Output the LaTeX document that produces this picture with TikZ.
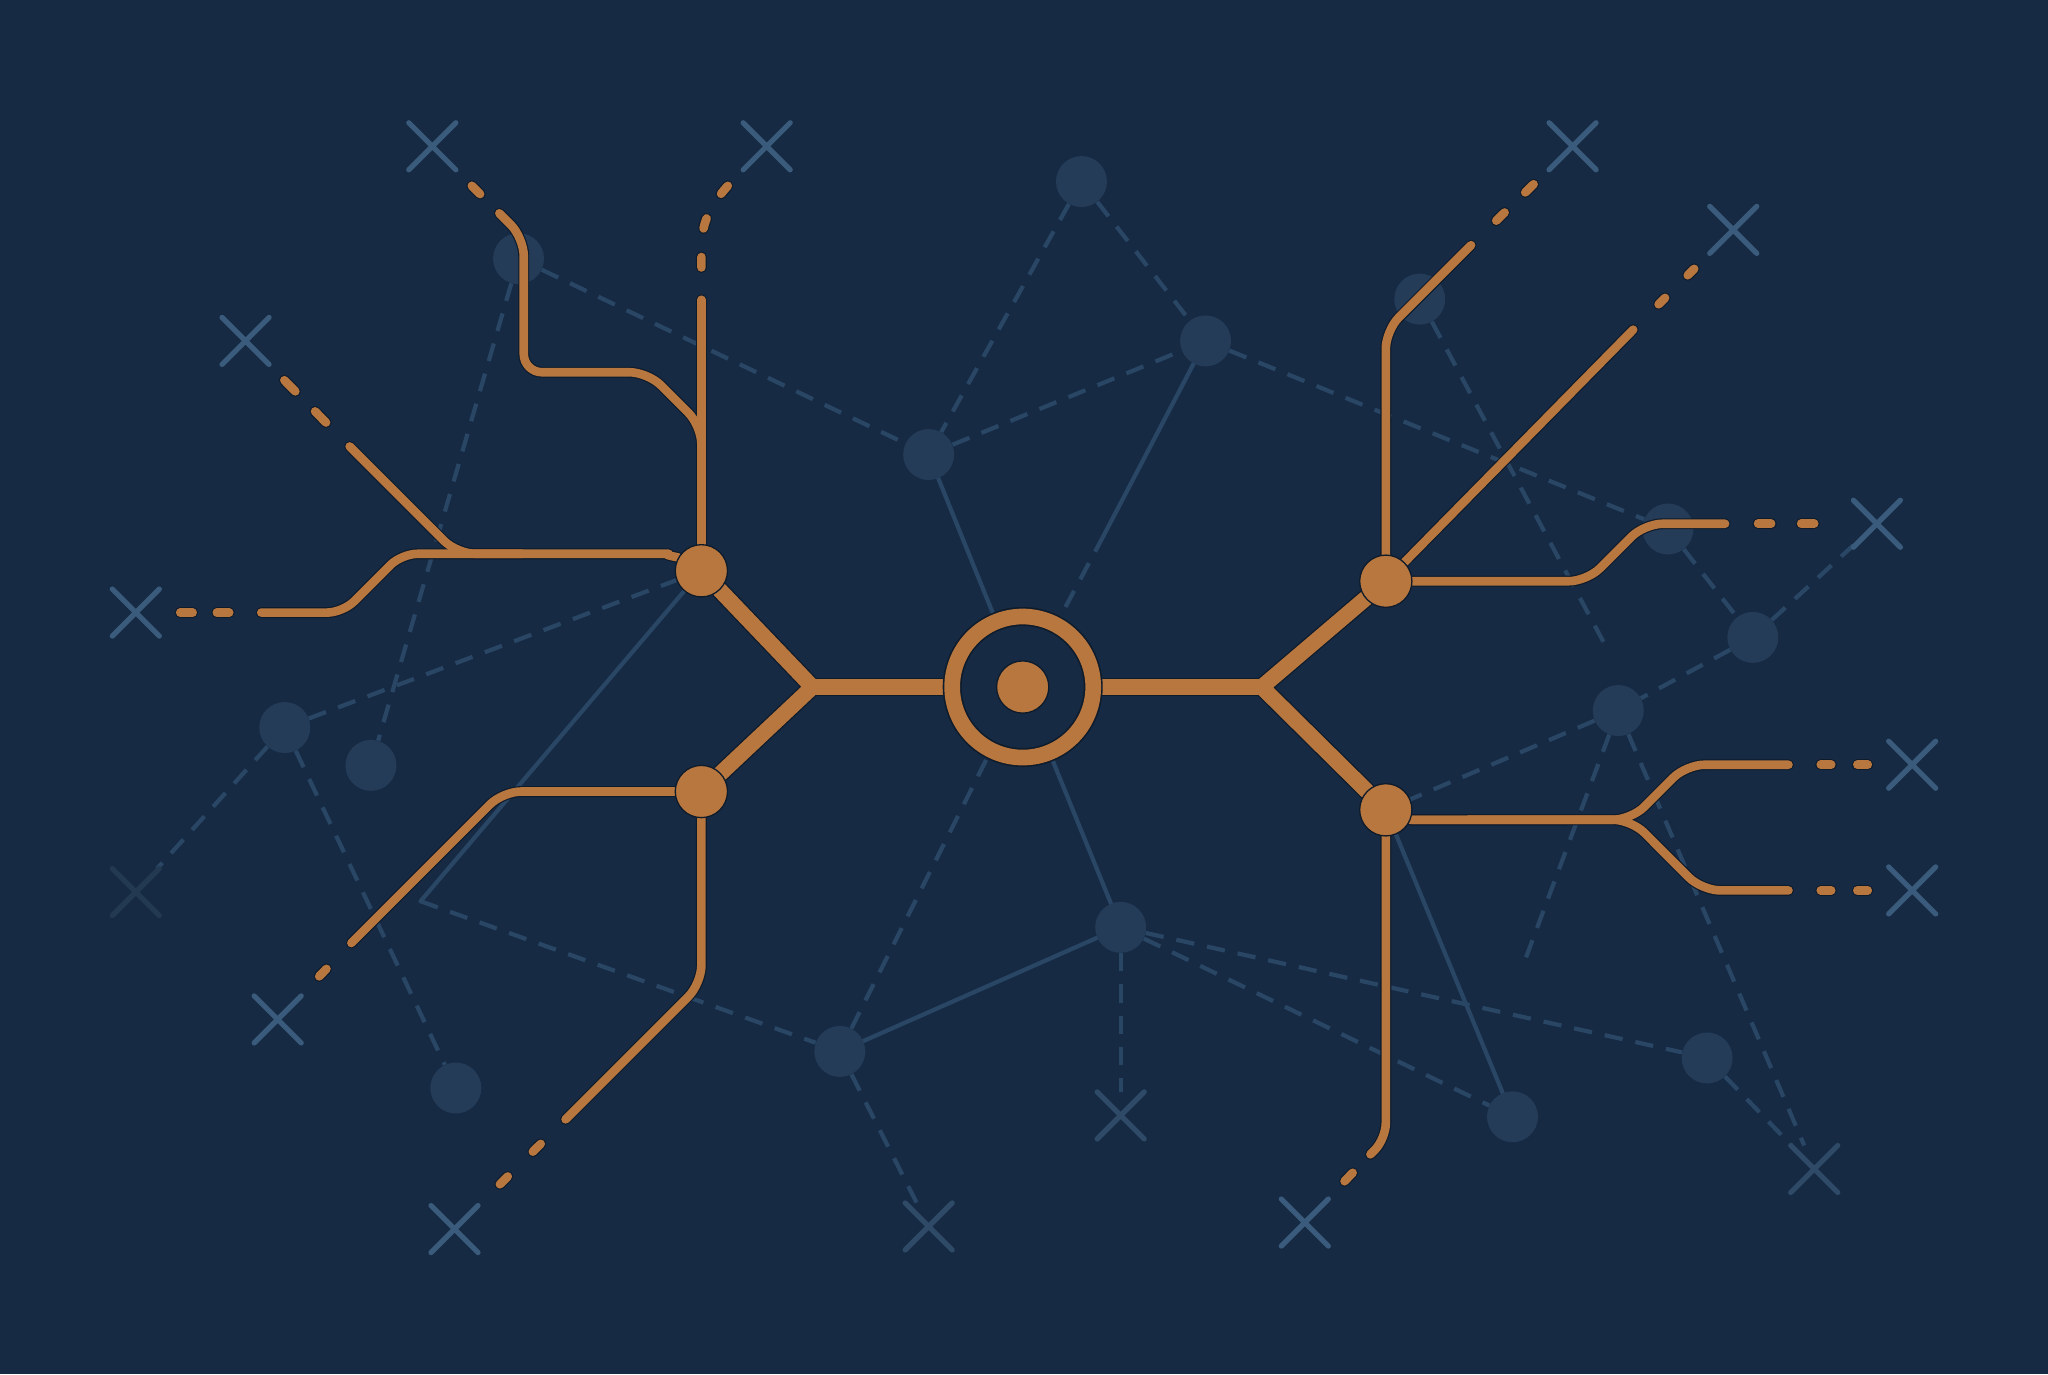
\documentclass[tikz,border=0pt]{standalone}
\usetikzlibrary{shapes.misc}
\definecolor{bgc}{HTML}{162A44}
\definecolor{flc}{HTML}{2A4665}
\definecolor{fnc}{HTML}{243C58}
\definecolor{xcol}{HTML}{3A5B7B}
\definecolor{xfcol}{HTML}{2E4A67}
\definecolor{xvcol}{HTML}{223951}
\definecolor{oc}{HTML}{B8773F}
\definecolor{shc}{HTML}{0E1B2B}
\pgfdeclarelayer{back}\pgfdeclarelayer{shad}\pgfdeclarelayer{orng}\pgfdeclarelayer{top}
\pgfsetlayers{back,main,shad,orng,top}
\newcommand\orangeroutes[2]{%
  % thick trunks
  \draw[#2] (A) -- (J1) -- (B);
  \draw[#2] (J1) -- (hub);
  \draw[#2] (C) -- (J2) -- (D);
  \draw[#2] (J2) -- (hub);
  % R1: A to left X
  \draw[#1, rounded corners=12pt] (A.150) to[out=170,in=0] (500,424) -- (307.5,424) -- (262.5,469) -- (e4);
  \draw[#1, dash pattern=on 9.5pt off 18.5pt, dash phase=12pt, shorten >=10pt] (xo4) -- (e4);
  % R1b: diagonal joining
  \draw[#1, rounded corners=14pt] (e3) -- (349.9,424) -- (400,424);
  \draw[#1, dash pattern=on 12pt off 21.5pt, dash phase=16.5pt, shorten >=10pt] (xo3) -- (e3);
  % R2: A vertical up
  \draw[#1] (A) -- (e2);
  \draw[#1, dash pattern=on 8pt off 22pt, dash phase=13pt, shorten >=14pt] (xo2) to[out=-135,in=90] (537,190) -- (e2);
  % R3: upper branch
  \draw[#1, rounded corners=14pt] (r3s) -- (537,326) -- (496,285) -- (401,285) -- (401,182) -- (e1);
  \draw[#1, dash pattern=on 9pt off 23pt, dash phase=14.7pt, shorten >=8pt] (xo1) -- (e1);
  % R5: B left
  \draw[#1, rounded corners=14pt] (B) -- (385,606) -- (e5);
  \draw[#1, dash pattern=on 8pt off 26pt, dash phase=13.2pt, shorten >=8pt] (xo5) -- (e5);
  % R6: B down
  \draw[#1, rounded corners=14pt] (B) -- (537,753) -- (e6);
  \draw[#1, dash pattern=on 8.5pt off 27pt, dash phase=12pt, shorten >=8pt] (xo6) -- (e6);
  % R7: C vertical up
  \draw[#1, rounded corners=14pt] (C) -- (1061,253) -- (e7);
  \draw[#1, dash pattern=on 9pt off 22pt, dash phase=14.5pt, shorten >=10pt] (xo7) -- (e7);
  % R8: C long diagonal
  \draw[#1] (C) -- (e8);
  \draw[#1, dash pattern=on 7pt off 24.5pt, dash phase=14.7pt, shorten >=8pt] (xo8) -- (e8);
  % R9: C right
  \draw[#1, rounded corners=14pt] (C) -- (1215,445) -- (1259,401) -- (e9);
  \draw[#1, dash pattern=on 10pt off 23pt, dash phase=10pt, shorten <=7pt, shorten >=8pt] (xo9) -- (e9);
  % R10: D right fork
  \draw[#1, rounded corners=14pt] (D.-22) -- (1249,627.6) -- (1291,585.5) -- (e10);
  \draw[#1, rounded corners=14pt] (D.-22) -- (1249,627.6) -- (1303,681.7) -- (e11);
  \draw[#1, dash pattern=on 8pt off 20pt, dash phase=12pt, shorten >=8pt] (xo10) -- (e10);
  \draw[#1, dash pattern=on 8pt off 20pt, dash phase=12pt, shorten >=8pt] (xo11) -- (e11);
  % R11: D down
  \draw[#1, rounded corners=12pt] (D) -- (1061,872) -- (e12);
  \draw[#1, dash pattern=on 9pt off 24pt, dash phase=14.1pt, shorten >=6pt] (xo12) -- (e12);
}
\begin{document}
\begin{tikzpicture}[x=1pt,y=-1pt,
  othin/.style={draw=oc, line width=6.6pt, line cap=round, line join=round},
  othick/.style={draw=oc, line width=12pt, line cap=round, line join=round},
  sthin/.style={draw=shc, line width=8.4pt, line cap=round, line join=round},
  sthick/.style={draw=shc, line width=14pt, line cap=round, line join=round},
  fl/.style={draw=flc, line width=3.2pt, line cap=round},
  fd/.style={draw=flc, line width=3.2pt, line cap=butt, dash pattern=on 14pt off 10pt},
  fnode/.style={circle, fill=fnc, minimum size=39pt, inner sep=0pt},
  xmk/.style={cross out, draw=xcol, line width=4pt, line cap=round, minimum size=32pt, inner sep=0pt},
  hubdot/.style={circle, fill=oc, draw=shc, line width=1pt, minimum size=40pt, inner sep=0pt},
  ringnode/.style={circle, draw=oc, line width=12pt, minimum size=108pt, inner sep=0pt,
     preaction={draw=shc, line width=14.5pt}}]
\begin{pgfonlayer}{back}
\fill[bgc] (0,0) rectangle (1568,1052);
\end{pgfonlayer}
\useasboundingbox (0,0) rectangle (1568,1052);
% orange hubs
\begin{pgfonlayer}{top}
\node[hubdot] (A) at (537,437) {};
\node[hubdot] (B) at (537,606) {};
\node[hubdot] (C) at (1061,445) {};
\node[hubdot] (D) at (1061,620) {};
\node[ringnode] (hub) at (783,526) {};
\node[hubdot] (core) at (783,526) {};
\end{pgfonlayer}
% faint nodes
\node[fnode] (n1) at (397,198) {};
\node[fnode] (n2) at (828,139) {};
\node[fnode] (n3) at (923,261) {};
\node[fnode] (n4) at (711,348) {};
\node[fnode] (n5) at (1087,229) {};
\node[fnode] (n6) at (1277,405) {};
\node[fnode] (n7) at (1342,488) {};
\node[fnode] (n8) at (1239,544) {};
\node[fnode] (n9) at (218,557) {};
\node[fnode] (n10) at (284,586) {};
\node[fnode] (n11) at (349,833) {};
\node[fnode] (n12) at (643,805) {};
\node[fnode] (n13) at (858,710) {};
\node[fnode] (n14) at (1158,855) {};
\node[fnode] (n15) at (1307,810) {};
% cross marks
\node[xmk] (xo1) at (331,112) {};
\node[xmk] (xo2) at (587,112) {};
\node[xmk] (xo3) at (188,261) {};
\node[xmk] (xo4) at (104,469) {};
\node[xmk] (xo5) at (212.6,780.5) {};
\node[xmk] (xo6) at (348,941) {};
\node[xmk] (xo7) at (1204,112) {};
\node[xmk] (xo8) at (1327,176) {};
\node[xmk] (xo9) at (1437,401) {};
\node[xmk] (xo10) at (1464,585.5) {};
\node[xmk] (xo11) at (1464,681.7) {};
\node[xmk] (xo12) at (999,936) {};
\node[xmk, draw=xvcol] (xa) at (104,683) {};
\node[xmk, draw=xfcol] (xb) at (858,854) {};
\node[xmk, draw=xfcol] (xc) at (711,939) {};
\node[xmk, draw=xfcol] (xd) at (1389,895) {};
% coordinates
\coordinate (J1) at (622,526);
\coordinate (J2) at (966,526);
\coordinate (h1) at (322,690);
\coordinate (k1) at (845,410);
\coordinate (k2) at (1229,494);
\coordinate (k3) at (1165,742);
\coordinate (e1) at (382.3,163.3);
\coordinate (e2) at (537,229.5);
\coordinate (e3) at (267.7,341.8);
\coordinate (e4) at (200,469);
\coordinate (e5) at (269,722);
\coordinate (e6) at (433,857);
\coordinate (e7) at (1126.3,187.7);
\coordinate (e8) at (1250.4,252.4);
\coordinate (e9) at (1320.75,401);
\coordinate (e10) at (1369.3,585.5);
\coordinate (e11) at (1369.3,681.7);
\coordinate (e12) at (1049.2,883.8);
\coordinate (r3s) at (537,345);
% faint network
\begin{pgfonlayer}{back}
\draw[fd] (n1) -- (n4);
\draw[fd] (n1) -- (n10);
\draw[fd] (n9) -- (A);
\draw[fl] (A) -- (h1);
\draw[fd] (h1) -- (n12);
\draw[fd] (n9) -- (xa);
\draw[fd] (n9) -- (n11);
\draw[fl] (n12) -- (n13);
\draw[fd] (n12) -- (hub);
\draw[fd] (n12) -- (xc);
\draw[fd] (n13) -- (xb);
\draw[fl] (n13) -- (hub);
\draw[fl] (n4) -- (hub);
\draw[fl] (n3) -- (k1);
\draw[fd] (k1) -- (hub);
\draw[fd] (n2) -- (n4);
\draw[fd] (n2) -- (n3);
\draw[fd] (n4) -- (n3);
\draw[fd] (n3) -- (n6);
\draw[fd] (n5) -- (k2);
\draw[fd] (n6) -- (n7);
\draw[fd] (n7) -- (xo9);
\draw[fd] (n7) -- (n8);
\draw[fd] (n8) -- (D);
\draw[fd] (n8) -- (k3);
\draw[fd] (n8) -- (xd);
\draw[fl] (D) -- (n14);
\draw[fd] (n13) -- (n15);
\draw[fd] (n13) -- (n14);
\draw[fd] (n15) -- (xd);
\end{pgfonlayer}
\begin{pgfonlayer}{shad}
\orangeroutes{sthin}{sthick}
\end{pgfonlayer}
\begin{pgfonlayer}{orng}
\orangeroutes{othin}{othick}
\end{pgfonlayer}
\end{tikzpicture}
\end{document}
